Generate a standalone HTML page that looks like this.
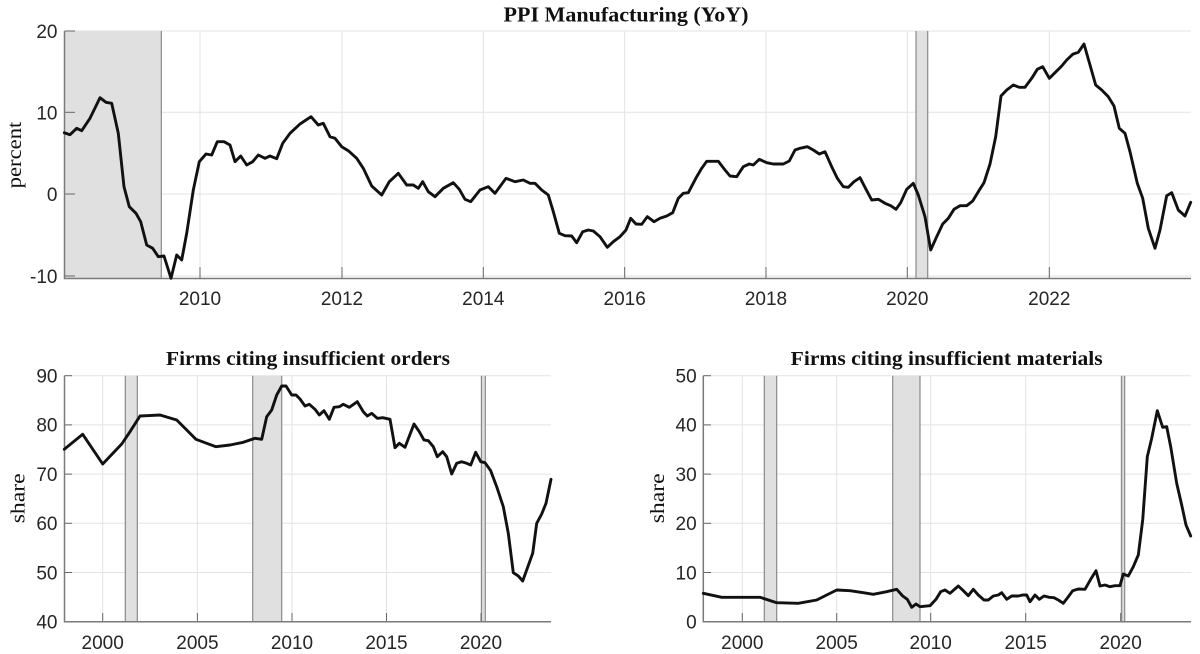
<!DOCTYPE html>
<html><head><meta charset="utf-8"><style>
html,body{margin:0;padding:0;background:#fff;}
svg{display:block;}
.tk{font-family:"Liberation Sans",Arial,sans-serif;font-size:19px;fill:#262626;}
.tt{font-family:"Liberation Serif","DejaVu Serif",serif;font-weight:bold;fill:#111;}
.yl{font-family:"Liberation Serif","DejaVu Serif",serif;font-size:20px;fill:#111;}
.grid{stroke:#e3e3e3;stroke-width:1;fill:none;}
.shade{fill:#e0e0e0;stroke:none;}
.edge{stroke:#8a8a8a;stroke-width:1.2;}
.ax{stroke:#7a7a7a;stroke-width:1.5;fill:none;}
.tick{stroke:#666;stroke-width:1;}
.ln{fill:none;stroke:#111;stroke-width:2.9;stroke-linejoin:round;stroke-linecap:round;}
</style></head><body>
<svg width="1200" height="654" viewBox="0 0 1200 654" xmlns="http://www.w3.org/2000/svg">
<!-- ===== TOP CHART ===== -->
<text class="tt" x="626" y="21.7" text-anchor="middle" font-size="21" textLength="245" lengthAdjust="spacingAndGlyphs">PPI Manufacturing (YoY)</text>
<g>
<line class="grid" x1="64.5" y1="31" x2="1191" y2="31"/>
<line class="grid" x1="64.5" y1="112.3" x2="1191" y2="112.3"/>
<line class="grid" x1="64.5" y1="194" x2="1191" y2="194"/>
<line class="grid" x1="64.5" y1="276" x2="1191" y2="276"/>
<line class="grid" x1="200" y1="31" x2="200" y2="278.5"/>
<line class="grid" x1="342" y1="31" x2="342" y2="278.5"/>
<line class="grid" x1="483.3" y1="31" x2="483.3" y2="278.5"/>
<line class="grid" x1="624.7" y1="31" x2="624.7" y2="278.5"/>
<line class="grid" x1="766" y1="31" x2="766" y2="278.5"/>
<line class="grid" x1="907.3" y1="31" x2="907.3" y2="278.5"/>
<line class="grid" x1="1049.3" y1="31" x2="1049.3" y2="278.5"/>
</g>
<rect class="shade" x="64.5" y="31" width="96.8" height="247.5"/>
<line class="edge" x1="161.3" y1="31" x2="161.3" y2="278.5"/>
<rect class="shade" x="916" y="31" width="11.7" height="247.5"/>
<line class="edge" x1="916" y1="31" x2="916" y2="278.5"/>
<line class="edge" x1="927.7" y1="31" x2="927.7" y2="278.5"/>
<g>
<line class="tick" x1="200" y1="278.5" x2="200" y2="267"/>
<line class="tick" x1="342" y1="278.5" x2="342" y2="267"/>
<line class="tick" x1="483.3" y1="278.5" x2="483.3" y2="267"/>
<line class="tick" x1="624.7" y1="278.5" x2="624.7" y2="267"/>
<line class="tick" x1="766" y1="278.5" x2="766" y2="267"/>
<line class="tick" x1="907.3" y1="278.5" x2="907.3" y2="267"/>
<line class="tick" x1="1049.3" y1="278.5" x2="1049.3" y2="267"/>
<line class="tick" x1="64.5" y1="31" x2="75" y2="31"/>
<line class="tick" x1="64.5" y1="112.3" x2="75" y2="112.3"/>
<line class="tick" x1="64.5" y1="194" x2="75" y2="194"/>
<line class="tick" x1="64.5" y1="276" x2="75" y2="276"/>
</g>
<polyline class="ax" points="64.5,31 64.5,278.5 1191,278.5"/>
<polyline class="ln" points="64.3,132.7 70,134.7 76.7,128.3 81.7,130.7 90,118.3 100,97.7 106,102.3 111.7,103.3 118.3,133.3 124,186.7 129.3,206.7 136,213.3 140.7,221.7 146.7,245 152.7,248.3 158.3,256.7 164,256 171,278.3 176.7,255 181.7,260 186.7,233.3 193.3,190 199.3,161.7 206,154 211.7,155 217.3,141.7 224,141.7 230,145 235,161.7 240.7,156 246.7,165 252.7,161.7 258.3,155 265,158.3 270,156 276.7,158.7 282.7,143.3 290,133.3 300,124 311,116.7 318.3,125 323.3,123.3 330,136.7 335,138.3 341.7,146.7 348.3,150.7 356.7,158.3 363.3,168.3 371.7,186 381.7,195 389.3,181.7 398.3,173.3 406.7,185 413.3,185 418.3,188.3 422.7,181.7 428.3,191.7 435,196.7 443.3,188.3 453.3,182.7 459.3,189.3 465,199.3 470.7,201.7 480,190 488.3,186.7 495,193.3 506,178.3 515,181.7 523.3,180 530,183.3 535,183.3 541.7,190 548.3,195 553.3,211.7 559.3,233.3 565,235.7 571.7,236 576.7,242.7 582.7,231.7 588.3,230 593.3,231 600,236.7 607.3,247.3 613.3,241.7 620,236.7 626,230 630.7,218.3 636,224 641.7,224.3 647.3,216.7 654,221.7 660,218.3 666.7,216 672.7,212.7 678.3,198.3 683.3,193.3 688.3,192.7 696.7,176.7 701.7,168.3 706.7,161.3 718.3,161.3 725,170 730,176 736.7,176.7 743.3,166.7 749.3,164 753.3,165 759.3,159.3 766.7,162.7 773.3,164 783.3,164 789.3,161 795,150 800,148.3 807.3,146.7 813.3,150 819.3,154 825,151.7 831.7,166.7 837.3,178.3 843.3,186.7 848.3,187.3 854,181.7 860,177.7 866,189.3 871.7,200 878.3,199.3 885,203.3 890.7,205.7 896,209.3 900.7,202.7 906.7,189.3 913.3,183.3 918.3,195 925,216.7 930.7,250 936.7,236.7 942.7,224 948.3,218.3 954,209.3 960,205.7 966.7,205.7 972.7,201 978.3,191.7 984,182.7 990,164 995.7,136.7 1001,96 1006.7,90 1013.3,85 1019.3,87.3 1025,87.3 1031.7,78.3 1037.3,69.3 1042.7,66.7 1049.3,78.3 1056,71.7 1061.7,66 1066.7,60 1072.7,54.3 1078.3,52.3 1084,44 1090,65 1095.7,85 1101.7,90 1108.3,96.7 1114,106 1119.3,128.3 1125,133.3 1130,151.7 1137.3,183.3 1142.7,198.3 1148.3,228.3 1155,248.3 1160,230 1166.7,195.7 1171.7,192.7 1178.3,210 1185,216 1190.7,202.3"/>
<g class="tk" text-anchor="end">
<text x="57.5" y="38">20</text>
<text x="57.5" y="119.3">10</text>
<text x="57.5" y="201">0</text>
<text x="57.5" y="283">-10</text>
</g>
<g class="tk" text-anchor="middle">
<text x="200" y="305">2010</text>
<text x="342" y="305">2012</text>
<text x="483.3" y="305">2014</text>
<text x="624.7" y="305">2016</text>
<text x="766" y="305">2018</text>
<text x="907.3" y="305">2020</text>
<text x="1049.3" y="305">2022</text>
</g>
<text class="yl" transform="translate(21,155) rotate(-90)" text-anchor="middle" textLength="66.7" lengthAdjust="spacingAndGlyphs">percent</text>

<!-- ===== BOTTOM LEFT ===== -->
<text class="tt" x="308" y="365" text-anchor="middle" font-size="19.5" textLength="284" lengthAdjust="spacingAndGlyphs">Firms citing insufficient orders</text>
<g>
<line class="grid" x1="64.5" y1="375.7" x2="551" y2="375.7"/>
<line class="grid" x1="64.5" y1="424.9" x2="551" y2="424.9"/>
<line class="grid" x1="64.5" y1="474.1" x2="551" y2="474.1"/>
<line class="grid" x1="64.5" y1="523.3" x2="551" y2="523.3"/>
<line class="grid" x1="64.5" y1="572.5" x2="551" y2="572.5"/>
<line class="grid" x1="102.7" y1="375.7" x2="102.7" y2="621.7"/>
<line class="grid" x1="197.4" y1="375.7" x2="197.4" y2="621.7"/>
<line class="grid" x1="292" y1="375.7" x2="292" y2="621.7"/>
<line class="grid" x1="386.5" y1="375.7" x2="386.5" y2="621.7"/>
<line class="grid" x1="481" y1="375.7" x2="481" y2="621.7"/>
</g>
<rect class="shade" x="125.3" y="375.7" width="12" height="246"/>
<line class="edge" x1="125.3" y1="375.7" x2="125.3" y2="621.7"/>
<line class="edge" x1="137.3" y1="375.7" x2="137.3" y2="621.7"/>
<rect class="shade" x="252.7" y="375.7" width="29" height="246"/>
<line class="edge" x1="252.7" y1="375.7" x2="252.7" y2="621.7"/>
<line class="edge" x1="281.7" y1="375.7" x2="281.7" y2="621.7"/>
<rect class="shade" x="481.5" y="375.7" width="3.8" height="246"/>
<line class="edge" x1="481.5" y1="375.7" x2="481.5" y2="621.7"/>
<line class="edge" x1="485.3" y1="375.7" x2="485.3" y2="621.7"/>
<g>
<line class="tick" x1="102.7" y1="621.7" x2="102.7" y2="613"/>
<line class="tick" x1="197.4" y1="621.7" x2="197.4" y2="613"/>
<line class="tick" x1="292" y1="621.7" x2="292" y2="613"/>
<line class="tick" x1="386.5" y1="621.7" x2="386.5" y2="613"/>
<line class="tick" x1="481" y1="621.7" x2="481" y2="613"/>
<line class="tick" x1="64.5" y1="375.7" x2="72" y2="375.7"/>
<line class="tick" x1="64.5" y1="424.9" x2="72" y2="424.9"/>
<line class="tick" x1="64.5" y1="474.1" x2="72" y2="474.1"/>
<line class="tick" x1="64.5" y1="523.3" x2="72" y2="523.3"/>
<line class="tick" x1="64.5" y1="572.5" x2="72" y2="572.5"/>
</g>
<polyline class="ax" points="64.5,375.7 64.5,621.7 551,621.7"/>
<polyline class="ln" points="64.3,449.3 82.7,434.3 102.7,464 121.7,444 130,431.7 140,416 146.7,415.7 160,415 176.7,420 186.7,430 196,439.3 205,442.7 216,446.7 230,445 243.3,442.3 255,438.3 261.7,439.3 266.7,416.7 271.7,410 276.7,395 281.7,386 286,386 291.7,395 296,395 300,399 305,406 309.3,404.3 315,409.3 319.3,415 324,410.7 329.3,419.3 334,407.3 339.3,406.7 343.3,404.3 349.3,407.3 357.3,401.7 363.3,411.7 367.3,416 371.7,413.3 377.3,418.3 382.7,417.7 390,419.3 395,447.7 399.3,443.3 405,447.3 414,424 419.3,431.7 424,440 428.3,440.7 433.3,446.7 437.3,456.7 442.7,451.7 446.7,456.7 451.7,474 456.7,463.3 461.7,461.7 466.7,463.3 470.7,465 475.7,452.3 480.7,461.7 485,462.7 490.7,470.7 496.7,486.7 503.3,506.7 508.3,533.3 513.3,572.7 518.3,576 522.7,581 527.3,568.3 532.7,553.3 536.7,523.3 541.7,514 546,503.3 551,479.3"/>
<g class="tk" text-anchor="end">
<text x="57.5" y="382.5">90</text>
<text x="57.5" y="431.7">80</text>
<text x="57.5" y="480.9">70</text>
<text x="57.5" y="530.1">60</text>
<text x="57.5" y="579.3">50</text>
<text x="57.5" y="628.5">40</text>
</g>
<g class="tk" text-anchor="middle">
<text x="102.7" y="649">2000</text>
<text x="197.4" y="649">2005</text>
<text x="292" y="649">2010</text>
<text x="386.5" y="649">2015</text>
<text x="481" y="649">2020</text>
</g>
<text class="yl" transform="translate(24.5,498.3) rotate(-90)" text-anchor="middle" textLength="50" lengthAdjust="spacingAndGlyphs">share</text>

<!-- ===== BOTTOM RIGHT ===== -->
<text class="tt" x="946.7" y="365" text-anchor="middle" font-size="19.5" textLength="312" lengthAdjust="spacingAndGlyphs">Firms citing insufficient materials</text>
<g>
<line class="grid" x1="703.3" y1="375.7" x2="1191" y2="375.7"/>
<line class="grid" x1="703.3" y1="424.9" x2="1191" y2="424.9"/>
<line class="grid" x1="703.3" y1="474.1" x2="1191" y2="474.1"/>
<line class="grid" x1="703.3" y1="523.3" x2="1191" y2="523.3"/>
<line class="grid" x1="703.3" y1="572.5" x2="1191" y2="572.5"/>
<line class="grid" x1="742.3" y1="375.7" x2="742.3" y2="621.7"/>
<line class="grid" x1="836.7" y1="375.7" x2="836.7" y2="621.7"/>
<line class="grid" x1="930.7" y1="375.7" x2="930.7" y2="621.7"/>
<line class="grid" x1="1025.7" y1="375.7" x2="1025.7" y2="621.7"/>
<line class="grid" x1="1120.7" y1="375.7" x2="1120.7" y2="621.7"/>
</g>
<rect class="shade" x="764.3" y="375.7" width="12.4" height="246"/>
<line class="edge" x1="764.3" y1="375.7" x2="764.3" y2="621.7"/>
<line class="edge" x1="776.7" y1="375.7" x2="776.7" y2="621.7"/>
<rect class="shade" x="892.7" y="375.7" width="27.3" height="246"/>
<line class="edge" x1="892.7" y1="375.7" x2="892.7" y2="621.7"/>
<line class="edge" x1="920" y1="375.7" x2="920" y2="621.7"/>
<rect class="shade" x="1121.7" y="375.7" width="3" height="246"/>
<line class="edge" x1="1121.7" y1="375.7" x2="1121.7" y2="621.7"/>
<line class="edge" x1="1124.7" y1="375.7" x2="1124.7" y2="621.7"/>
<g>
<line class="tick" x1="742.3" y1="621.7" x2="742.3" y2="613"/>
<line class="tick" x1="836.7" y1="621.7" x2="836.7" y2="613"/>
<line class="tick" x1="930.7" y1="621.7" x2="930.7" y2="613"/>
<line class="tick" x1="1025.7" y1="621.7" x2="1025.7" y2="613"/>
<line class="tick" x1="1120.7" y1="621.7" x2="1120.7" y2="613"/>
<line class="tick" x1="703.3" y1="375.7" x2="711" y2="375.7"/>
<line class="tick" x1="703.3" y1="424.9" x2="711" y2="424.9"/>
<line class="tick" x1="703.3" y1="474.1" x2="711" y2="474.1"/>
<line class="tick" x1="703.3" y1="523.3" x2="711" y2="523.3"/>
<line class="tick" x1="703.3" y1="572.5" x2="711" y2="572.5"/>
</g>
<polyline class="ax" points="703.3,375.7 703.3,621.7 1191,621.7"/>
<polyline class="ln" points="703.3,593.3 721.7,597.3 760,597.3 776.7,602.7 798.3,603.3 816.7,600 826.7,595 836.7,590 850,590.7 863.3,592.7 873.3,594.3 886.7,591.7 896.7,589.3 902.7,596 907.3,599.3 911.7,607.3 916,604 920,606.7 930,605.7 936,599.3 940.7,591.7 945,590 950,593.3 958.3,586 963.3,590.7 968.3,595.7 973.3,589.3 978.3,595 984,600 988.3,600 993.3,596 998.3,595 1001.7,592.7 1006.7,599.3 1011.7,596 1018.3,596 1022.7,595 1026.7,595 1030,601.7 1035,595 1039.3,599.3 1044,596 1049.3,597.3 1054,597.7 1058.3,600 1063.3,603.3 1068.3,596.7 1072.7,590.7 1078.3,589 1085,589.3 1090.7,579.3 1096,570.7 1100,586 1105,585 1110,586.7 1115,585.7 1120,585.7 1123.3,574 1128.3,576 1133.3,566.7 1138.3,555 1142.7,520 1147.3,456.7 1151.7,438.3 1157.3,410.7 1162.7,427.3 1166.7,426.7 1170.7,446.7 1176.7,483.3 1181.7,505 1186,525 1190.7,536"/>
<g class="tk" text-anchor="end">
<text x="696.7" y="382.5">50</text>
<text x="696.7" y="431.7">40</text>
<text x="696.7" y="480.9">30</text>
<text x="696.7" y="530.1">20</text>
<text x="696.7" y="579.3">10</text>
<text x="696.7" y="628.5">0</text>
</g>
<g class="tk" text-anchor="middle">
<text x="742.3" y="649">2000</text>
<text x="836.7" y="649">2005</text>
<text x="930.7" y="649">2010</text>
<text x="1025.7" y="649">2015</text>
<text x="1120.7" y="649">2020</text>
</g>
<text class="yl" transform="translate(664,498.3) rotate(-90)" text-anchor="middle" textLength="50" lengthAdjust="spacingAndGlyphs">share</text>
</svg>
</body></html>
